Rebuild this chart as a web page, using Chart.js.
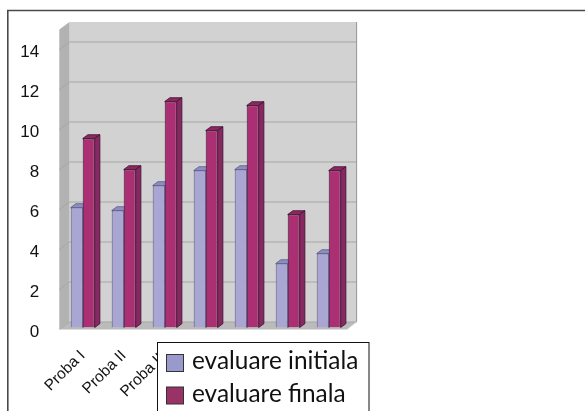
<!DOCTYPE html>
<html>
<head>
<meta charset="utf-8">
<style>
  html, body { margin: 0; padding: 0; background: #fff; overflow: hidden; }
  canvas { display: block; }
</style>
<script src="https://cdn.jsdelivr.net/npm/chart.js@4"></script>
</head>
<body>
<canvas id="chart" width="585" height="411"></canvas>
<script>
const categories = ['Proba I', 'Proba II', 'Proba III', 'Proba IV', 'Proba V', 'Proba VI', 'Proba VII'];
const evaluareInitiala = [6.0, 5.85, 7.1, 7.85, 7.9, 3.2, 3.7];
const evaluareFinala = [9.45, 7.9, 11.3, 9.85, 11.1, 5.65, 7.85];
const seriesNames = ['evaluare initiala', 'evaluare finala'];

// Shaded faces of each series: front, top, side, outline
const initialaShades = { front: '#a9a6d4', top: '#8e8cc4', side: '#7f7cab', edge: '#5b5a85', key: '#9999cc' };
const finalaShades = { front: '#ab3073', top: '#8c2760', side: '#862862', edge: '#3f1030', key: '#993366' };

function polygon(ctx, points, fill) {
  ctx.beginPath();
  points.forEach(([x, y], i) => (i ? ctx.lineTo(x, y) : ctx.moveTo(x, y)));
  ctx.closePath();
  if (fill) { ctx.fillStyle = fill; ctx.fill(); }
}

// Back wall, side wall, floor and gridlines of the pseudo-3D box
const wallsPlugin = {
  id: 'walls',
  beforeDatasetsDraw(chart) {
    const { ctx, chartArea: area, scales: { y } } = chart;
    const backL = area.left + 7.3, backR = area.right + 7.4;
    const frontL = area.left - 2.9, frontR = area.right - 2.2;
    const topPx = y.getPixelForValue(y.max), zeroPx = y.getPixelForValue(0);
    const back = p => p - 5.5, front = p => p + 2;

    ctx.save();
    polygon(ctx, [[backL, back(topPx)], [backR, back(topPx)], [backR, back(zeroPx)], [backL, back(zeroPx)]], '#d2d2d2');
    polygon(ctx, [[frontL, front(topPx)], [backL, back(topPx)], [backL, back(zeroPx)], [frontL, front(zeroPx)]], '#b2b2b2');
    polygon(ctx, [[frontL, front(zeroPx)], [frontR, front(zeroPx)], [backR, back(zeroPx)], [backL, back(zeroPx)]], '#bbbbbb');

    ctx.lineWidth = 1;
    ctx.strokeStyle = '#a6a6a6';
    y.ticks.forEach(t => {
      const p = y.getPixelForValue(t.value);
      ctx.beginPath();
      ctx.moveTo(frontL, front(p));
      ctx.lineTo(backL, back(p));
      ctx.lineTo(backR, back(p));
      ctx.stroke();
    });
    ctx.strokeStyle = '#949494';
    ctx.beginPath();
    ctx.moveTo(backR, back(topPx));
    ctx.lineTo(backR, back(zeroPx));
    ctx.stroke();
    ctx.strokeStyle = '#dcdcdc';
    ctx.beginPath();
    ctx.moveTo(frontL, front(zeroPx));
    ctx.lineTo(frontR, front(zeroPx));
    ctx.lineTo(backR, back(zeroPx));
    ctx.stroke();

    // Depth faces of the bars, behind the front faces drawn by the library
    const dx = 5.2, dy = 3.8;
    [initialaShades, finalaShades].forEach((shade, i) => {
      chart.getDatasetMeta(i).data.forEach(bar => {
        const l = bar.x - bar.width / 2, r = bar.x + bar.width / 2, t = bar.y, b = bar.base;
        ctx.lineWidth = 0.8;
        ctx.strokeStyle = shade.edge;
        polygon(ctx, [[l, t], [l + dx, t - dy], [r + dx, t - dy], [r, t]], shade.top);
        ctx.stroke();
        polygon(ctx, [[r, t], [r + dx, t - dy], [r + dx, b - dy], [r, b]], shade.side);
        ctx.stroke();
      });
    });
    ctx.restore();
  },
  // Outer frame and the boxed legend, which sits over the lower axis labels
  afterDraw(chart) {
    const { ctx } = chart;
    ctx.save();
    ctx.strokeStyle = '#4a4a4a';
    ctx.lineWidth = 1.6;
    ctx.beginPath();
    ctx.moveTo(7.8, 411);
    ctx.lineTo(7.8, 10.5);
    ctx.lineTo(585, 10.5);
    ctx.stroke();

    ctx.fillStyle = '#fff';
    ctx.fillRect(157.5, 342.5, 211.5, 70);
    ctx.strokeStyle = '#111';
    ctx.lineWidth = 1;
    ctx.strokeRect(157.5, 342.5, 211.5, 70);

    ctx.font = '24.4px Lato';
    ctx.textBaseline = 'middle';
    ctx.textAlign = 'left';
    [initialaShades, finalaShades].forEach((shade, i) => {
      const top = 354.5 + i * 32.5;
      ctx.fillStyle = shade.key;
      ctx.fillRect(166.5, top, 17, 17);
      ctx.strokeStyle = '#333';
      ctx.strokeRect(166.5, top, 17, 17);
      ctx.fillStyle = '#111';
      ctx.fillText(seriesNames[i], 192, top + 7);
    });
    ctx.restore();
  }
};

new Chart(document.getElementById('chart'), {
  type: 'bar',
  data: {
    labels: categories,
    datasets: [
      { label: seriesNames[0], data: evaluareInitiala, backgroundColor: initialaShades.front, borderColor: initialaShades.edge, borderWidth: 1 },
      { label: seriesNames[1], data: evaluareFinala, backgroundColor: finalaShades.front, borderColor: finalaShades.edge, borderWidth: 1 }
    ]
  },
  options: {
    responsive: false,
    animation: false,
    layout: { padding: { top: 27.5, right: 235.8, left: 0, bottom: 0 } },
    datasets: { bar: { categoryPercentage: 0.585, barPercentage: 1 } },
    plugins: { legend: { display: false }, tooltip: { enabled: false }, title: { display: false } },
    scales: {
      x: {
        afterFit(scale) { scale.height = 83.5; scale.paddingLeft = 0; scale.paddingRight = 0; },
        grid: { display: false, drawTicks: false },
        border: { display: false },
        ticks: {
          autoSkip: false, minRotation: 45, maxRotation: 45, padding: 19,
          color: '#111', font: { family: '"Liberation Sans"', size: 15.5 }
        }
      },
      y: {
        min: 0, max: 15,
        afterFit(scale) { scale.width = 62.2; scale.paddingTop = 0; scale.paddingBottom = 0; },
        grid: { display: false, drawTicks: false },
        border: { display: false },
        ticks: {
          stepSize: 2, includeBounds: false, padding: 23, labelOffset: 5,
          color: '#111', font: { family: '"Liberation Sans"', size: 17 }
        }
      }
    }
  },
  plugins: [wallsPlugin]
});
</script>
</body>
</html>
